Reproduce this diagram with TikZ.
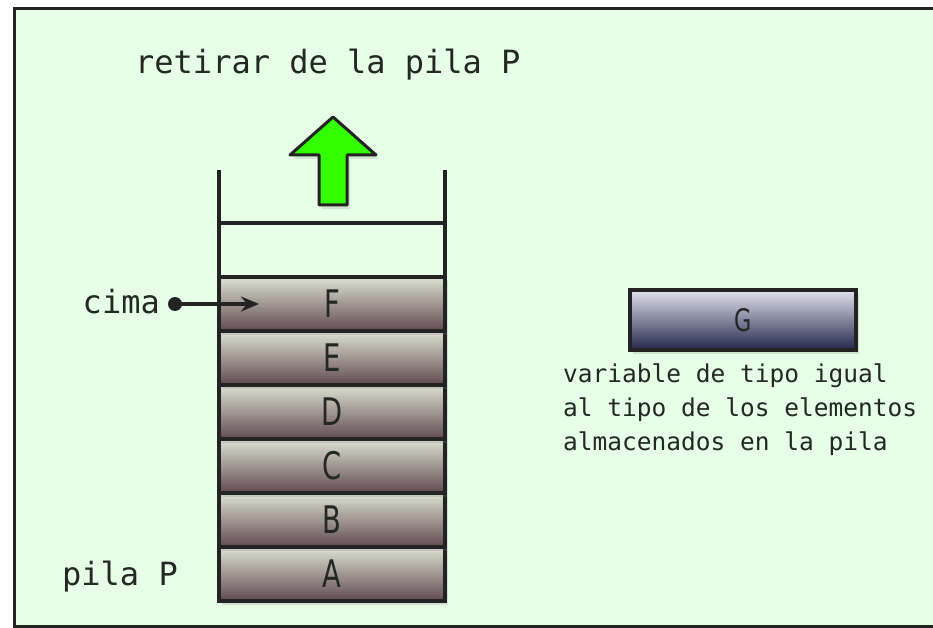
\documentclass[tikz,border=0pt]{standalone}
\usepackage{fontspec}
\setmonofont{DejaVu Sans Mono}
\newfontfamily\boxfont[FakeStretch=0.72]{DejaVu Sans}
\usetikzlibrary{shadows,arrows.meta}
\definecolor{bggreen}{RGB}{230,255,230}
\definecolor{frameline}{RGB}{35,35,35}
\definecolor{boxtop}{RGB}{220,225,210}
\definecolor{boxbot}{RGB}{98,74,80}
\definecolor{gtop}{RGB}{225,226,238}
\definecolor{gbot}{RGB}{34,38,74}
\definecolor{arrowgreen}{RGB}{52,255,0}
\definecolor{txt}{RGB}{35,40,35}
\tikzset{
  elem/.style={draw=frameline, line width=3.6pt, top color=boxtop, bottom color=boxbot,
    minimum width=226pt, minimum height=54pt, inner sep=0pt, text=txt,
    font=\boxfont\fontsize{38}{40}\selectfont,
    drop shadow={opacity=0.22, shadow xshift=3pt, shadow yshift=-4pt}},
  gbox/.style={draw=frameline, line width=3.6pt, top color=gtop, bottom color=gbot,
    minimum width=226pt, minimum height=60pt, inner sep=0pt, text=txt,
    font=\boxfont\fontsize{31}{33}\selectfont,
    drop shadow={opacity=0.22, shadow xshift=3pt, shadow yshift=-4pt}},
  wall/.style={draw=frameline, line width=3.4pt},
  lbl/.style={font=\ttfamily\fontsize{32}{34}\selectfont, text=txt, inner sep=0pt},
  note/.style={font=\ttfamily\fontsize{24.5}{34}\selectfont, text=txt, inner sep=0pt, align=left},
}
\begin{document}
\begin{tikzpicture}[x=1pt,y=-1pt]
\useasboundingbox (0,0) rectangle (933,628);
\fill[white] (0,0) rectangle (933,628);
\fill[bggreen] (14,9) rectangle (945,626);
\draw[frameline, line width=3pt] (945,9) -- (14,9) -- (14,626) -- (945,626);

% title
\node[lbl, anchor=base west] (title) at (135,74) {retirar de la pila P};

% green arrow
\filldraw[fill=arrowgreen, draw=frameline, line width=3pt, line join=round,
  drop shadow={opacity=0.2, shadow xshift=3pt, shadow yshift=-4pt}]
  (333,117) -- (376,155) -- (347,155) -- (347,205) -- (319,205) -- (319,155) -- (290,155) -- cycle;

% walls
\draw[wall] (219,170) -- (219,601);
\draw[wall] (445,170) -- (445,601);
\draw[wall] (219,223) -- (445,223);

% elements
\node[elem] (A) at (332,574) {A};
\node[elem] (B) at (332,520) {B};
\node[elem] (C) at (332,466) {C};
\node[elem] (D) at (332,412) {D};
\node[elem] (E) at (332,358) {E};
\node[elem] (F) at (332,304) {F};

% cima pointer
\node[lbl, anchor=east] (cima) at (160,302) {cima};
\coordinate (cimadot) at (175,304);
\coordinate (cimatip) at (259,304);
\fill[frameline] (cimadot) circle (7pt);
\draw[frameline, line width=3.2pt, -{Stealth[length=18pt,width=15pt]}] (cimadot) -- (cimatip);

% pila P
\node[lbl, anchor=base west] (pila) at (62,585) {pila P};

% G variable
\node[gbox] (G) at (743,320) {G};
\node[note, anchor=north west] (desc) at (563,364) {variable de tipo igual\\al tipo de los elementos\\almacenados en la pila};
\end{tikzpicture}
\end{document}
